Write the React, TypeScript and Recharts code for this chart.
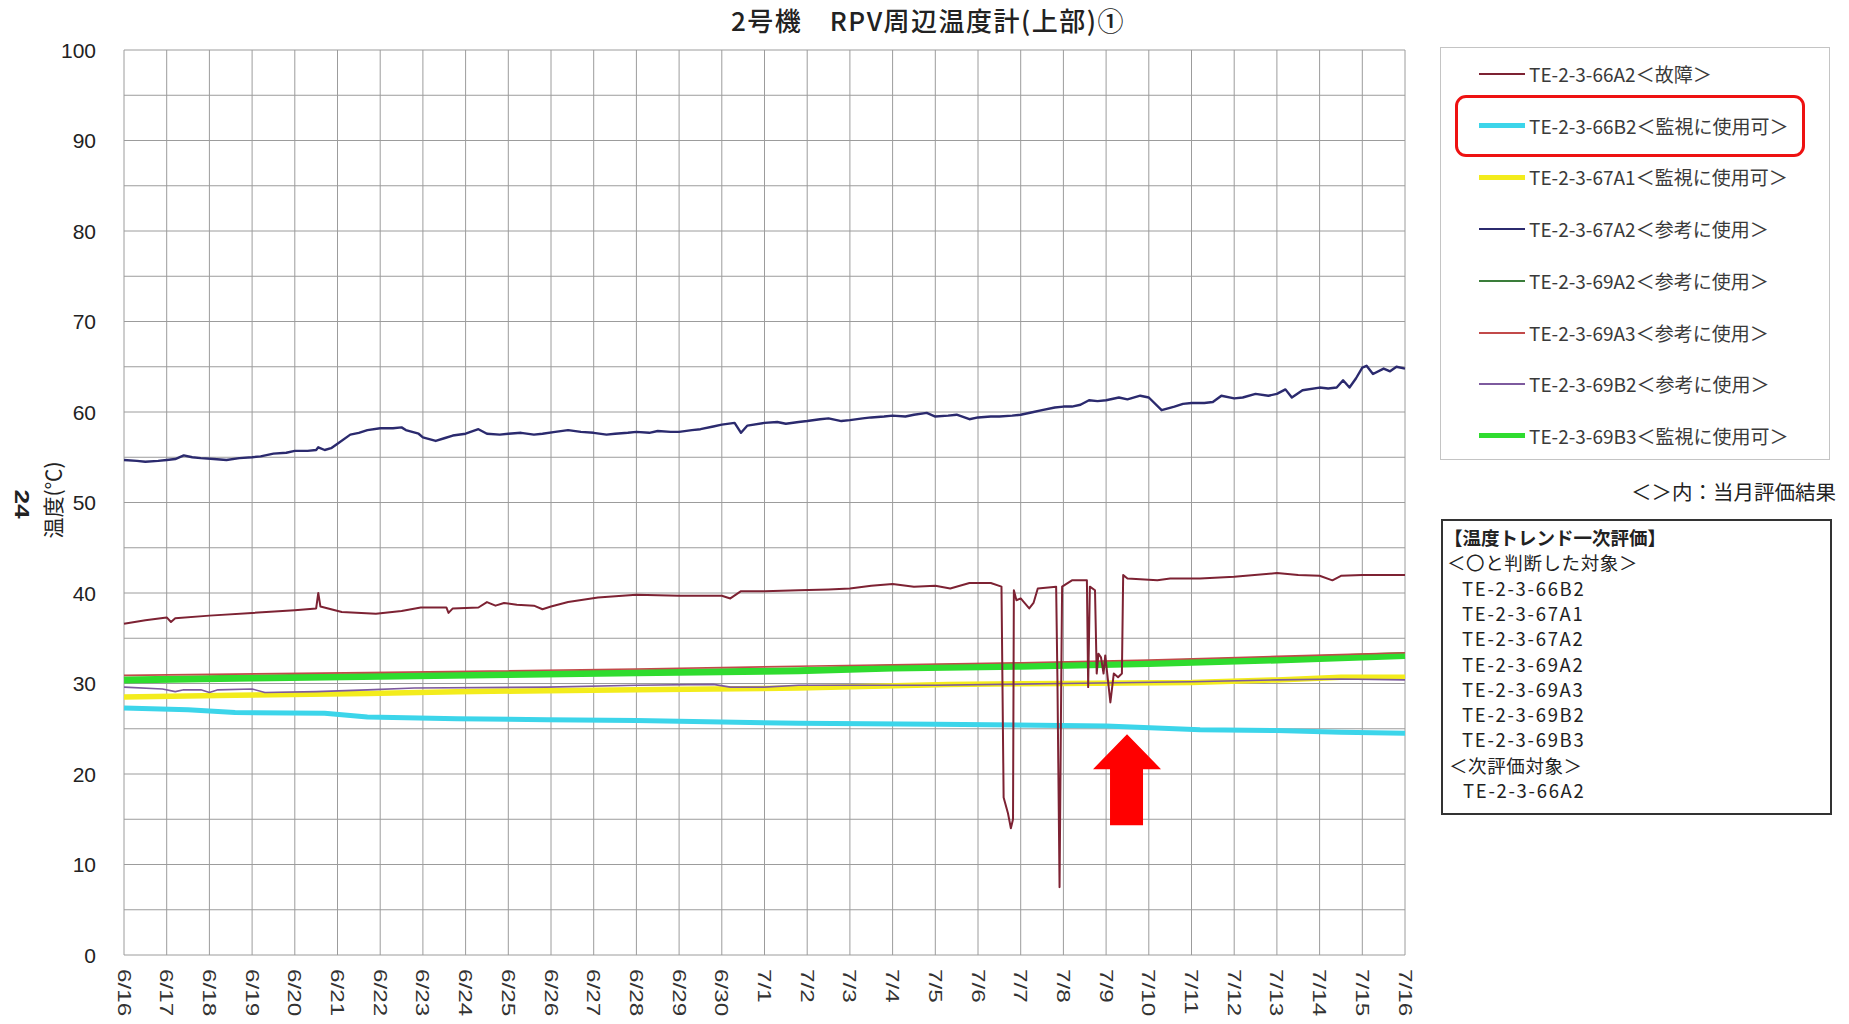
import React from 'react';
import { LineChart, Line, XAxis, YAxis, CartesianGrid, ReferenceDot } from 'recharts';

// ---- axis categories / ticks ----
const dayLabels = [
  '6/16', '6/17', '6/18', '6/19', '6/20', '6/21', '6/22', '6/23', '6/24', '6/25',
  '6/26', '6/27', '6/28', '6/29', '6/30', '7/1', '7/2', '7/3', '7/4', '7/5',
  '7/6', '7/7', '7/8', '7/9', '7/10', '7/11', '7/12', '7/13', '7/14', '7/15', '7/16',
];
const dayTicks = dayLabels.map((_, i) => i);
const yGridTicks = [0, 5, 10, 15, 20, 25, 30, 35, 40, 45, 50, 55, 60, 65, 70, 75, 80, 85, 90, 95, 100];
const yLabelTicks = [0, 10, 20, 30, 40, 50, 60, 70, 80, 90, 100];

// ---- series meta ----
const seriesIds = ['TE-2-3-66A2', 'TE-2-3-66B2', 'TE-2-3-67A1', 'TE-2-3-67A2', 'TE-2-3-69A2', 'TE-2-3-69A3', 'TE-2-3-69B2', 'TE-2-3-69B3'];
const seriesStatus = ['故障', '監視に使用可', '監視に使用可', '参考に使用', '参考に使用', '参考に使用', '参考に使用', '監視に使用可'];
const seriesColors = ['#7d2233', '#3cd5ea', '#f3ec1c', '#2b2a6e', '#3a7d3a', '#c24a4a', '#7d5a9e', '#2fdc2f'];
const seriesWidths = [2, 5, 5.5, 2.4, 1.6, 1.6, 1.6, 7];
const legendSampleWidths = [2, 5, 5, 2, 2, 2, 2, 5];

// ---- series values: [day offset from 6/16, temperature ℃] ----
const te66A2: [number, number][] = [
  [0, 36.6], [0.5, 37.0], [1.0, 37.3], [1.1, 36.8], [1.2, 37.2], [2.0, 37.5], [3.0, 37.8], [4.0, 38.1],
  [4.5, 38.3], [4.55, 40.0], [4.6, 38.5], [5.1, 37.9], [5.9, 37.7], [6.5, 38.0], [6.95, 38.4], [7.55, 38.4],
  [7.6, 37.8], [7.7, 38.3], [8.3, 38.4], [8.5, 39.0], [8.7, 38.6], [8.9, 38.9], [9.2, 38.7], [9.6, 38.6],
  [9.8, 38.2], [10.0, 38.5], [10.4, 39.0], [11.1, 39.5], [12.0, 39.8], [13.0, 39.7], [14.0, 39.7], [14.2, 39.4],
  [14.45, 40.2], [15.0, 40.2], [15.8, 40.3], [16.5, 40.4], [17.0, 40.5], [17.5, 40.8], [18.0, 41.0], [18.5, 40.7],
  [19.0, 40.8], [19.35, 40.5], [19.8, 41.1], [20.3, 41.1], [20.55, 40.7], [20.6, 17.4], [20.7, 15.7], [20.77, 14.0],
  [20.82, 15.0], [20.84, 40.3], [20.9, 39.2], [21.0, 39.4], [21.2, 38.3], [21.3, 38.9], [21.4, 40.5], [21.83, 40.7],
  [21.86, 30.5], [21.91, 7.5], [21.95, 30.5], [21.97, 40.7], [22.2, 41.4], [22.55, 41.4], [22.58, 29.6], [22.62, 40.7],
  [22.74, 40.3], [22.78, 31.1], [22.82, 33.3], [22.88, 32.9], [22.94, 31.1], [22.98, 33.1], [23.1, 27.9], [23.18, 31.1],
  [23.28, 30.7], [23.37, 31.1], [23.4, 42.0], [23.5, 41.6], [24.2, 41.4], [24.5, 41.6], [25.2, 41.6], [26.0, 41.8],
  [27.0, 42.2], [27.5, 42.0], [28.0, 41.9], [28.3, 41.4], [28.5, 41.9], [29.0, 42.0], [30.0, 42.0],
];
const te66B2: [number, number][] = [
  [0, 27.3], [1.5, 27.1], [2.6, 26.8], [4.7, 26.7], [5.7, 26.3], [7.8, 26.1], [9.9, 26.0], [12.0, 25.9],
  [15.8, 25.6], [19.0, 25.5], [23.0, 25.3], [25.2, 24.9], [27.0, 24.8], [28.5, 24.6], [30.0, 24.5],
];
const te67A1: [number, number][] = [
  [0, 28.5], [2.6, 28.7], [5.7, 28.9], [7.8, 29.1], [9.9, 29.2], [12.0, 29.3], [15.8, 29.5], [19.3, 29.9],
  [22.0, 30.0], [25.0, 30.1], [27.0, 30.4], [28.5, 30.7], [30.0, 30.7],
];
const te67A2: [number, number][] = [
  [0, 54.7], [0.3, 54.6], [0.5, 54.5], [0.8, 54.6], [1.0, 54.7], [1.2, 54.8], [1.4, 55.2], [1.6, 55.0],
  [1.8, 54.9], [2.1, 54.8], [2.4, 54.7], [2.7, 54.9], [3.0, 55.0], [3.2, 55.1], [3.5, 55.4], [3.8, 55.5],
  [4.0, 55.7], [4.3, 55.7], [4.5, 55.8], [4.55, 56.1], [4.7, 55.8], [4.85, 56.0], [5.0, 56.5], [5.3, 57.5],
  [5.5, 57.7], [5.7, 58.0], [6.0, 58.2], [6.3, 58.2], [6.5, 58.3], [6.6, 58.0], [6.9, 57.6], [7.0, 57.2],
  [7.3, 56.8], [7.5, 57.1], [7.7, 57.4], [8.0, 57.6], [8.3, 58.1], [8.5, 57.6], [8.8, 57.5], [9.0, 57.6],
  [9.3, 57.7], [9.6, 57.5], [9.8, 57.6], [10.1, 57.8], [10.4, 58.0], [10.7, 57.8], [11.0, 57.7], [11.3, 57.5],
  [11.5, 57.6], [11.8, 57.7], [12.0, 57.8], [12.3, 57.7], [12.5, 57.9], [12.8, 57.8], [13.0, 57.8], [13.3, 58.0],
  [13.5, 58.1], [13.8, 58.4], [14.0, 58.6], [14.3, 58.8], [14.45, 57.7], [14.6, 58.5], [15.0, 58.8], [15.3, 58.9],
  [15.5, 58.7], [15.8, 58.9], [16.0, 59.0], [16.3, 59.2], [16.5, 59.3], [16.8, 59.0], [17.0, 59.1], [17.3, 59.3],
  [17.5, 59.4], [17.8, 59.5], [18.0, 59.6], [18.3, 59.5], [18.5, 59.7], [18.8, 59.9], [19.0, 59.5], [19.3, 59.6],
  [19.5, 59.7], [19.8, 59.2], [20.0, 59.4], [20.3, 59.5], [20.5, 59.5], [20.8, 59.6], [21.0, 59.7], [21.3, 60.0],
  [21.5, 60.2], [21.8, 60.5], [22.0, 60.6], [22.2, 60.6], [22.4, 60.8], [22.6, 61.3], [22.8, 61.2], [23.0, 61.3],
  [23.3, 61.6], [23.5, 61.4], [23.8, 61.8], [24.0, 61.6], [24.3, 60.2], [24.6, 60.6], [24.8, 60.9], [25.0, 61.0],
  [25.3, 61.0], [25.5, 61.1], [25.7, 61.8], [26.0, 61.5], [26.2, 61.6], [26.5, 62.0], [26.8, 61.8], [27.0, 62.0],
  [27.2, 62.5], [27.35, 61.6], [27.6, 62.4], [28.0, 62.7], [28.2, 62.6], [28.4, 62.7], [28.55, 63.5], [28.7, 62.7],
  [28.85, 63.7], [29.0, 64.9], [29.1, 65.1], [29.25, 64.2], [29.5, 64.8], [29.65, 64.5], [29.8, 65.0], [30.0, 64.8],
];
const te69A2: [number, number][] = [
  [0, 30.3], [6.0, 30.6], [12.0, 31.0], [15.8, 31.3], [21.0, 31.8], [24.0, 32.1], [27.0, 32.5], [30.0, 32.9],
];
const te69A3: [number, number][] = [
  [0, 30.9], [5.7, 31.2], [12.0, 31.6], [15.8, 31.9], [21.0, 32.3], [24.0, 32.6], [27.0, 33.0], [30.0, 33.4],
];
const te69B2: [number, number][] = [
  [0, 29.6], [0.9, 29.4], [1.2, 29.1], [1.4, 29.3], [1.8, 29.3], [2.0, 29.0], [2.2, 29.3], [3.0, 29.4],
  [3.3, 29.0], [4.5, 29.1], [5.7, 29.3], [6.8, 29.5], [9.9, 29.6], [12.0, 29.8], [13.8, 29.9], [14.2, 29.6],
  [15.0, 29.6], [15.8, 29.8], [19.0, 29.8], [22.0, 30.0], [25.0, 30.2], [27.0, 30.4], [28.5, 30.5], [30.0, 30.4],
];
const te69B3: [number, number][] = [
  [0, 30.4], [3.0, 30.6], [6.0, 30.8], [9.0, 31.0], [12.0, 31.2], [15.8, 31.4], [18.0, 31.7], [21.0, 31.9],
  [24.0, 32.2], [27.0, 32.6], [30.0, 33.1],
];

const evalOk = ['TE-2-3-66B2', 'TE-2-3-67A1', 'TE-2-3-67A2', 'TE-2-3-69A2', 'TE-2-3-69A3', 'TE-2-3-69B2', 'TE-2-3-69B3'];
const evalNext = ['TE-2-3-66A2'];

const seriesData = [te66A2, te66B2, te67A1, te67A2, te69A2, te69A3, te69B2, te69B3];
const drawOrder = [4, 7, 2, 6, 1, 5, 3, 0];

const toPoints = (arr: [number, number][]) => arr.map(([d, v]) => ({ d, v }));

const LATIN = '"Liberation Sans", Arial, sans-serif';
const CJK = '"Noto Sans CJK JP", "Noto Sans", sans-serif';

const XTick = (props: any) => {
  const { x, y, payload } = props;
  return (
    <g transform={`translate(${x},${y})`}>
      <text
        transform="rotate(90) scale(1.35,1)"
        x={0}
        y={0}
        dy="0.36em"
        textAnchor="start"
        fontFamily={LATIN}
        fontSize={18}
        fill="#333"
      >
        {dayLabels[payload.value]}
      </text>
    </g>
  );
};

const YTick = (props: any) => {
  const { x, y, payload } = props;
  if (!yLabelTicks.includes(payload.value)) return <g />;
  return (
    <text x={x} y={y} dy="0.36em" textAnchor="end" fontFamily={LATIN} fontSize={21} fill="#222">
      {payload.value}
    </text>
  );
};

const UpArrow = (props: any) => {
  const { cx, cy } = props;
  const pts: [number, number][] = [[0, 0], [34, 35], [16, 35], [16, 91], [-17, 91], [-17, 35], [-34, 35]];
  return <polygon points={pts.map(([a, b]) => `${cx + a},${cy + b}`).join(' ')} fill="#ff0000" />;
};

const LegendBox = () => (
  <div
    style={{
      position: 'absolute', left: 1440, top: 47, width: 390, height: 413, boxSizing: 'border-box',
      border: '1.5px solid #c4c4c4', background: '#fff',
    }}
  >
    <div
      style={{
        position: 'absolute', left: 14, top: 47, width: 350, height: 62, boxSizing: 'border-box',
        border: '3px solid #ee1111', borderRadius: 11,
      }}
    />
    {seriesIds.map((id, i) => {
      const cy = 26 + i * 51.7;
      return (
        <div key={id} style={{ position: 'absolute', left: 0, top: cy - 13, height: 26, width: 390 }}>
          <div
            style={{
              position: 'absolute', left: 38, top: 13 - legendSampleWidths[i] / 2, width: 46,
              height: legendSampleWidths[i], background: seriesColors[i],
            }}
          />
          <div
            style={{
              position: 'absolute', left: 88, top: 0, height: 26, lineHeight: '26px', whiteSpace: 'nowrap',
              fontFamily: CJK, fontSize: 19, color: '#3a3a3a',
            }}
          >
            {id}＜{seriesStatus[i]}＞
          </div>
        </div>
      );
    })}
  </div>
);

const evalLine = (top: number): React.CSSProperties => ({
  position: 'absolute', top, height: 25, lineHeight: '25px', whiteSpace: 'nowrap',
});

const EvalBox = () => (
  <div
    style={{
      position: 'absolute', left: 1441, top: 519, width: 391, height: 296, boxSizing: 'border-box',
      border: '2px solid #333', background: '#fff', fontFamily: CJK, fontSize: 18.5, color: '#222',
    }}
  >
    <div style={{ ...evalLine(4), left: 1, fontWeight: 700 }}>【温度トレンド一次評価】</div>
    <div style={{ ...evalLine(29.3), left: 4, letterSpacing: 0.6 }}>＜〇と判断した対象＞</div>
    {evalOk.map((t, k) => (
      <div key={t} style={{ ...evalLine(54.6 + k * 25.3), left: 19, fontSize: 18.5, letterSpacing: 1.7 }}>{t}</div>
    ))}
    <div style={{ ...evalLine(231.7), left: 6, letterSpacing: 0.6 }}>＜次評価対象＞</div>
    {evalNext.map((t, k) => (
      <div key={t} style={{ ...evalLine(257 + k * 25.3), left: 20, fontSize: 18.5, letterSpacing: 1.7 }}>{t}</div>
    ))}
  </div>
);

export default function App() {
  return (
    <div style={{ position: 'absolute', left: 0, top: 0, width: 1849, height: 1024, background: '#fff', overflow: 'hidden' }}>
      <LineChart width={1849} height={1024} margin={{ top: 50, right: 444, bottom: 9, left: 64 }}>
        <CartesianGrid stroke="#9c9c9c" strokeWidth={1} />
        <XAxis
          dataKey="d"
          type="number"
          domain={[0, 30]}
          ticks={dayTicks}
          interval={0}
          tick={<XTick />}
          tickLine={false}
          axisLine={false}
          tickSize={0}
          tickMargin={14}
          height={60}
        />
        <YAxis
          type="number"
          domain={[0, 100]}
          ticks={yGridTicks}
          interval={0}
          tick={<YTick />}
          tickLine={false}
          axisLine={false}
          tickSize={0}
          tickMargin={28}
          width={60}
        />
        {drawOrder.map((i) => (
          <Line
            key={seriesIds[i]}
            name={seriesIds[i]}
            data={toPoints(seriesData[i])}
            dataKey="v"
            type="linear"
            stroke={seriesColors[i]}
            strokeWidth={seriesWidths[i]}
            strokeLinejoin="round"
            dot={false}
            activeDot={false}
            isAnimationActive={false}
          />
        ))}
        <ReferenceDot x={23.49} y={24.4} r={0} shape={<UpArrow />} />
      </LineChart>

      <svg width={1849} height={1024} style={{ position: 'absolute', left: 0, top: 0, pointerEvents: 'none' }}>
        <text x={928} y={31} textAnchor="middle" fontFamily={CJK} fontSize={26} fontWeight={500} letterSpacing={1.5} fill="#222">
          2号機　RPV周辺温度計(上部)①
        </text>
        <text
          transform="translate(53,500) rotate(-90)"
          textAnchor="middle"
          dy="0.36em"
          fontFamily={CJK}
          fontSize={21}
          fill="#222"
        >
          温度(℃)
        </text>
        <text
          transform="translate(23,504) rotate(90) scale(1.25,1)"
          textAnchor="middle"
          dy="0.36em"
          fontFamily={LATIN}
          fontSize={21}
          fontWeight={700}
          fill="#222"
        >
          24
        </text>
        <text x={1836} y={500} textAnchor="end" fontFamily={CJK} fontSize={20.5} fill="#222">
          ＜＞内：当月評価結果
        </text>
      </svg>

      <LegendBox />
      <EvalBox />
    </div>
  );
}
